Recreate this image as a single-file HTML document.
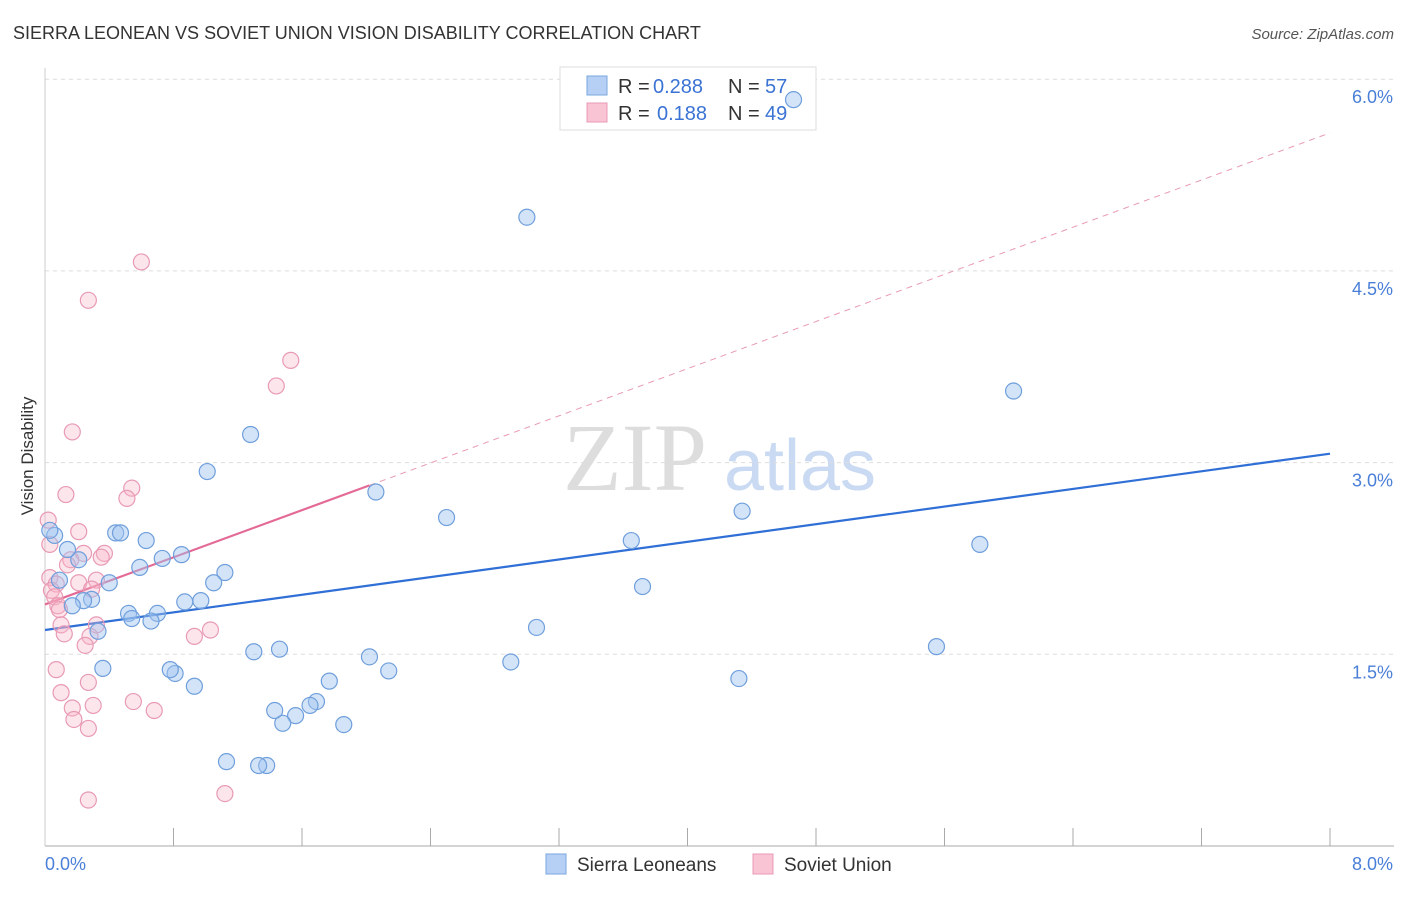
<!DOCTYPE html>
<html><head><meta charset="utf-8"><style>
body{margin:0;background:#fff;font-family:"Liberation Sans",sans-serif}
</style></head><body>
<svg id="c" width="1406" height="892" xmlns="http://www.w3.org/2000/svg" font-family="Liberation Sans, sans-serif">
<text x="13" y="39" font-size="18" fill="#333">SIERRA LEONEAN VS SOVIET UNION VISION DISABILITY CORRELATION CHART</text>
<text x="1394" y="39" font-size="15" fill="#555" text-anchor="end" font-style="italic">Source: ZipAtlas.com</text>
<text transform="translate(33,456) rotate(-90)" font-size="17" fill="#333" text-anchor="middle">Vision Disability</text>
<g><text x="635" y="490" font-size="96" fill="#ddd" font-family="Liberation Serif, serif" text-anchor="middle">ZIP</text><text x="800" y="490" font-size="72" fill="#c9daf2" text-anchor="middle">atlas</text></g>
<g id="grid"></g><g id="axes"></g>
<g>
<rect x="560" y="67" width="256" height="63" fill="#fff" stroke="#ddd"/>
<rect x="587" y="76" width="20" height="19" fill="#b5cff5" stroke="#7aa7e0"/>
<rect x="587" y="103" width="20" height="19" fill="#f9c4d4" stroke="#e89ab4"/>
<text x="618" y="93" font-size="20" fill="#333">R =</text><text x="653" y="93" font-size="20" fill="#3b73d4">0.288</text>
<text x="728" y="93" font-size="20" fill="#333">N =</text><text x="765" y="93" font-size="20" fill="#3b73d4">57</text>
<text x="618" y="120" font-size="20" fill="#333">R =</text><text x="657" y="120" font-size="20" fill="#3b73d4">0.188</text>
<text x="728" y="120" font-size="20" fill="#333">N =</text><text x="765" y="120" font-size="20" fill="#3b73d4">49</text>
</g>
<g id="lines"></g><g id="pts"></g>
<g>
<rect x="546" y="854" width="20" height="20" fill="#b5cff5" stroke="#7aa7e0"/>
<text x="577" y="871" font-size="19" fill="#333">Sierra Leoneans</text>
<rect x="753" y="854" width="20" height="20" fill="#f9c4d4" stroke="#e89ab4"/>
<text x="784" y="871" font-size="19" fill="#333">Soviet Union</text>
</g>
</svg>
<script>
const yTicks=[1.5,3.0,4.5,6.0];
const yTickLabels=["1.5%","3.0%","4.5%","6.0%"];
const xTickLabels=["0.0%","8.0%"];
const blueX=[4.66,3.00,6.03,1.28,1.01,2.06,2.50,4.34,3.65,5.82,3.72,3.06,5.55,2.90,4.32,2.02,2.14,1.46,1.30,1.77,1.69,1.65,1.56,1.48,1.43,1.86,1.13,1.38,1.33,0.93,0.81,0.78,0.36,1.12,1.05,0.97,0.87,0.85,0.73,0.63,0.59,0.70,0.66,0.52,0.54,0.44,0.47,0.40,0.33,0.29,0.24,0.21,0.14,0.09,0.06,0.03,0.17];
const blueY=[5.84,4.92,3.56,3.22,2.93,2.77,2.57,2.62,2.39,2.36,2.03,1.71,1.56,1.44,1.31,1.48,1.37,1.54,1.52,1.29,1.13,1.10,1.02,0.96,1.06,0.95,0.66,0.63,0.63,1.25,1.35,1.38,1.39,2.14,2.06,1.92,1.91,2.28,2.25,2.39,2.18,1.82,1.76,1.82,1.78,2.45,2.45,2.06,1.68,1.93,1.92,2.24,2.32,2.08,2.43,2.47,1.88];
const pinkX=[0.60,0.27,1.53,1.44,0.17,0.13,0.54,0.51,0.21,0.02,0.03,0.37,0.24,0.35,0.16,0.14,0.03,0.07,0.21,0.32,0.29,0.04,0.06,0.08,0.09,0.10,0.12,0.32,0.28,0.25,1.03,0.93,0.07,0.27,0.10,0.55,0.68,0.30,0.17,0.18,0.27,0.27,1.12];
const pinkY=[4.57,4.27,3.80,3.60,3.24,2.75,2.80,2.72,2.46,2.55,2.36,2.29,2.29,2.26,2.24,2.20,2.10,2.05,2.06,2.08,2.01,2.00,1.95,1.88,1.85,1.73,1.66,1.73,1.64,1.57,1.69,1.64,1.38,1.28,1.20,1.13,1.06,1.10,1.08,0.99,0.92,0.36,0.41];
const blueTrend=[1.69,3.07];
const pinkTrend=[1.89,5.58];
const pinkSolidEnd=2.02;
const X=v=>45+v*160.625, Y=v=>846-v*127.8;
const NS="http://www.w3.org/2000/svg";
function mk(t,a,p){const e=document.createElementNS(NS,t);for(const k in a)e.setAttribute(k,a[k]);document.getElementById(p).appendChild(e);return e;}
yTicks.forEach((t,i)=>{
 const l=mk('line',{x1:45,x2:1394,y1:Y(t),y2:Y(t),stroke:'#ddd','stroke-dasharray':'4,4'},'grid');
 
 
 const tx=mk('text',{x:1393,y:Y(t)+24,'font-size':18,fill:'#4a7fd8','text-anchor':'end'},'axes');tx.textContent=yTickLabels[i];
 
 
});
const ax=mk('line',{x1:45,x2:1394,y1:846,y2:846,stroke:'#aaa'},'axes');


const ay=mk('line',{x1:45,x2:45,y1:68,y2:846,stroke:'#ccc'},'axes');


for(let i=1;i<=10;i++){const t=mk('line',{x1:X(i*0.8),x2:X(i*0.8),y1:828,y2:846,stroke:'#aaa'},'axes');
 
 }
[[0,'start',45],[8,'end',1393]].forEach((d,i)=>{const t=mk('text',{x:d[2],y:870,'font-size':18,fill:'#4a7fd8','text-anchor':d[1]},'axes');t.textContent=xTickLabels[i];
 
 });
const pw=v=>pinkTrend[0]+(pinkTrend[1]-pinkTrend[0])*v/8;
let l1=mk('line',{x1:X(0),y1:Y(blueTrend[0]),x2:X(8),y2:Y(blueTrend[1]),stroke:'#2f6fd6','stroke-width':2.2},'lines');


let l2=mk('line',{x1:X(pinkSolidEnd),y1:Y(pw(pinkSolidEnd)),x2:X(8),y2:Y(pinkTrend[1]),stroke:'#e89ab4','stroke-width':1,'stroke-dasharray':'6,5'},'lines');


let l3=mk('line',{x1:X(0),y1:Y(pinkTrend[0]),x2:X(pinkSolidEnd),y2:Y(pw(pinkSolidEnd)),stroke:'#e46a96','stroke-width':2.2},'lines');


pinkX.forEach((v,i)=>{const c=mk('circle',{cx:X(v),cy:Y(pinkY[i]),r:8,fill:'rgba(248,180,200,0.35)',stroke:'#e89ab4','stroke-width':1.2},'pts');
 
 });
blueX.forEach((v,i)=>{const c=mk('circle',{cx:X(v),cy:Y(blueY[i]),r:8,fill:'rgba(160,195,240,0.45)',stroke:'#6f9fdc','stroke-width':1.2},'pts');
 
 });
</script>
</body></html>
